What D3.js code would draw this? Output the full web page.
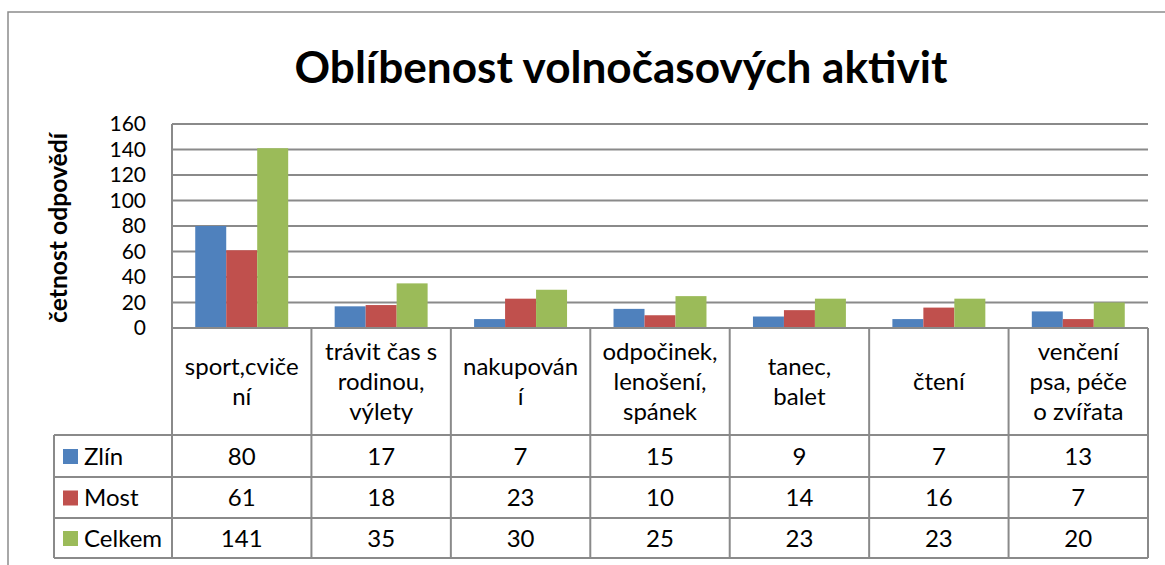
<!DOCTYPE html>
<html>
<head>
<meta charset="utf-8">
<script src="https://cdn.jsdelivr.net/npm/d3@7"></script>
<style>
  html, body { margin: 0; padding: 0; background: #ffffff; }
  svg { display: block; }
  text { font-family: Lato, "Noto Sans", sans-serif; fill: #000; }
</style>
</head>
<body>
<svg id="chart" width="1165" height="565"></svg>
<script>
// ---- data ----
const categories = ["sport,cvičení", "trávit čas s rodinou, výlety", "nakupování",
  "odpočinek, lenošení, spánek", "tanec, balet", "čtení", "venčení psa, péče o zvířata"];
const categoryLines = [["sport,cviče", "ní"], ["trávit čas s", "rodinou,", "výlety"], ["nakupován", "í"],
  ["odpočinek,", "lenošení,", "spánek"], ["tanec,", "balet"], ["čtení"], ["venčení", "psa, péče", "o zvířata"]];
const seriesNames = ["Zlín", "Most", "Celkem"];
const zlin = [80, 17, 7, 15, 9, 7, 13];
const most = [61, 18, 23, 10, 14, 16, 7];
const celkem = [141, 35, 30, 25, 23, 23, 20];
const yTicks = [0, 20, 40, 60, 80, 100, 120, 140, 160];
const titleText = "Oblíbenost volnočasových aktivit";
const yTitleText = "četnost odpovědí";

const seriesValues = [zlin, most, celkem];
const colors = ["#4F81BD", "#C0504D", "#9BBB59"];

// ---- layout ----
const svg = d3.select("#chart");
const plotLeft = 172, plotRight = 1148, plotTop = 124, plotBottom = 328;
const tableRows = [328, 435, 477, 518, 558];
const legendLeft = 54;
const lineColor = "#8a8a8a";
const fs = 24;
const tickFs = 21;

svg.append("rect").attr("width", 1165).attr("height", 565).attr("fill", "#fff");

// outer chart border
svg.append("path").attr("d", "M8,566 L8,12 L1166,12")
  .attr("fill", "none").attr("stroke", "#8c8c8c").attr("stroke-width", 1.5);

const x = d3.scaleBand().domain(categories).range([plotLeft, plotRight]).paddingInner(0).paddingOuter(0);
const xs = d3.scaleBand().domain(seriesNames).range([0, x.bandwidth()]).paddingInner(0).paddingOuter(0.75);
const y = d3.scaleLinear().domain([0, 160]).range([plotBottom, plotTop]);

// gridlines
svg.append("g").selectAll("line").data(yTicks).join("line")
  .attr("x1", plotLeft).attr("x2", plotRight)
  .attr("y1", d => y(d)).attr("y2", d => y(d))
  .attr("stroke", lineColor).attr("stroke-width", 2);

// bars
seriesNames.forEach((s, si) => {
  svg.append("g").selectAll("rect").data(categories).join("rect")
    .attr("x", c => x(c) + xs(s))
    .attr("width", xs.bandwidth())
    .attr("y", (c, i) => y(seriesValues[si][i]))
    .attr("height", (c, i) => y(0) - y(seriesValues[si][i]))
    .attr("fill", colors[si]);
});

// y axis labels
const yAxis = d3.axisLeft(y).tickValues(yTicks).tickSize(0).tickPadding(26);
const ya = svg.append("g").attr("transform", `translate(${plotLeft},0)`).call(yAxis);
ya.select(".domain").remove();
ya.selectAll("text").style("font-family", "Lato, sans-serif").style("font-size", tickFs + "px").attr("fill", "#000");

// table horizontal lines
svg.append("g").selectAll("line").data(tableRows).join("line")
  .attr("x1", (d, i) => i === 0 ? plotLeft : legendLeft).attr("x2", plotRight)
  .attr("y1", d => d).attr("y2", d => d)
  .attr("stroke", lineColor).attr("stroke-width", 2);

// table vertical lines
const vx = categories.map(c => x(c)).concat([plotRight]);
svg.append("g").selectAll("line").data(vx).join("line")
  .attr("x1", d => d).attr("x2", d => d)
  .attr("y1", (d, i) => i === 0 ? plotTop : plotBottom).attr("y2", tableRows[4])
  .attr("stroke", lineColor).attr("stroke-width", 2);
svg.append("line").attr("x1", legendLeft).attr("x2", legendLeft)
  .attr("y1", tableRows[1]).attr("y2", tableRows[4])
  .attr("stroke", lineColor).attr("stroke-width", 2);

// category labels
const lineH = 30;
const headCenter = (tableRows[0] + tableRows[1]) / 2;
categories.forEach((c, i) => {
  const lines = categoryLines[i];
  const t = svg.append("text").attr("text-anchor", "middle").style("font-size", fs + "px");
  lines.forEach((ln, j) => {
    t.append("tspan").attr("x", x(c) + x.bandwidth() / 2)
      .attr("y", headCenter + (j - (lines.length - 1) / 2) * lineH)
      .attr("dy", "0.36em").text(ln);
  });
});

// legend rows + values
seriesNames.forEach((s, si) => {
  const cy = (tableRows[si + 1] + tableRows[si + 2]) / 2;
  svg.append("rect").attr("x", 63).attr("y", cy - 7).attr("width", 15).attr("height", 15).attr("fill", colors[si]);
  svg.append("text").attr("x", 84).attr("y", cy).attr("dy", "0.36em")
    .style("font-size", fs + "px").text(s);
  svg.append("g").selectAll("text").data(categories).join("text")
    .attr("x", c => x(c) + x.bandwidth() / 2).attr("y", cy).attr("dy", "0.36em")
    .attr("text-anchor", "middle").style("font-size", fs + "px")
    .text((c, i) => seriesValues[si][i]);
});

// title (fit to reference width)
const title = svg.append("text").attr("x", 621).attr("y", 83).attr("text-anchor", "middle")
  .style("font-weight", "bold").style("font-size", "40px").text(titleText);
const tw = title.node().getComputedTextLength();
title.style("font-size", (40 * 653 / tw) + "px");

// y axis title
const yt = svg.append("text").attr("transform", "translate(67,228) rotate(-90)")
  .attr("text-anchor", "middle").style("font-weight", "bold").style("font-size", "22px").text(yTitleText);
const yw = yt.node().getComputedTextLength();
yt.style("font-size", (22 * 190 / yw) + "px");
</script>
</body>
</html>
